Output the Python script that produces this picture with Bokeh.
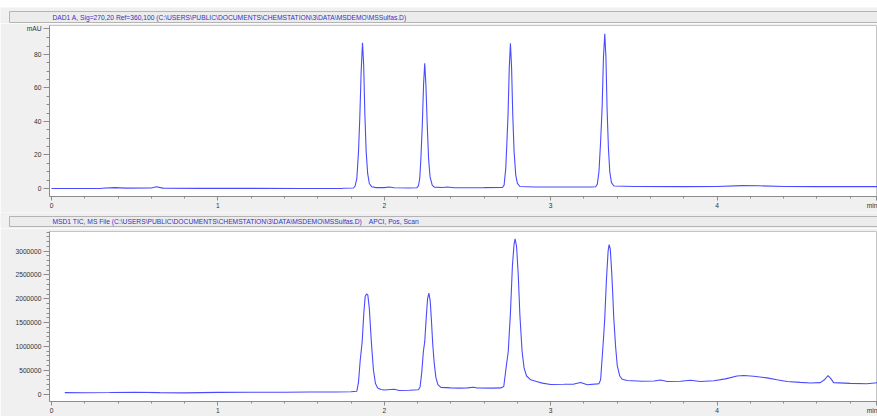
from bokeh.plotting import figure
from bokeh.layouts import column, row
from bokeh.models import FixedTicker, Range1d, Spacer
from bokeh.core.properties import value
from bokeh.embed import file_html
from bokeh.resources import INLINE

# ---------------- data ----------------
dad_title = "DAD1 A, Sig=270,20 Ref=360,100 (C:\\USERS\\PUBLIC\\DOCUMENTS\\CHEMSTATION\\3\\DATA\\MSDEMO\\MSSulfas.D)"
tic_title = "MSD1 TIC, MS File (C:\\USERS\\PUBLIC\\DOCUMENTS\\CHEMSTATION\\3\\DATA\\MSDEMO\\MSSulfas.D)\u00a0\u00a0\u00a0 APCI, Pos, Scan"

dad_time = [0.0, 0.3, 0.38, 0.45, 0.6, 0.63, 0.67, 0.9, 1.2, 1.5, 1.75,
            1.815, 1.825, 1.835, 1.845, 1.853, 1.861, 1.869, 1.876, 1.883, 1.891, 1.90, 1.91, 1.925, 1.95,
            2.0, 2.03, 2.06, 2.15,
            2.195, 2.205, 2.213, 2.22, 2.228, 2.236, 2.243, 2.25, 2.258, 2.266, 2.275, 2.288, 2.30,
            2.35, 2.38, 2.42, 2.6,
            2.71, 2.72, 2.73, 2.737, 2.744, 2.751, 2.758, 2.765, 2.772, 2.78, 2.79, 2.80, 2.815,
            2.9, 3.1, 3.25,
            3.27, 3.28, 3.29, 3.30, 3.309, 3.317, 3.325, 3.332, 3.339, 3.347, 3.355, 3.365, 3.38,
            3.5, 3.8, 4.0, 4.15, 4.25, 4.4, 4.6, 4.97]
dad_mau = [0.0, 0.1, 0.5, 0.2, 0.3, 1.0, 0.2, 0.1, 0.1, 0.0, 0.1,
           0.3, 1.5, 6, 22, 43, 70, 87, 74, 45, 22, 9, 3, 1.0, 0.5,
           0.5, 0.9, 0.4, 0.3,
           0.4, 1.5, 6, 18, 37, 62, 74.8, 62, 38, 18, 7, 2, 0.8,
           0.6, 0.9, 0.4, 0.5,
           0.6, 2, 12, 28, 45, 72, 86.7, 72, 44, 22, 8, 3, 1.2,
           0.9, 0.9, 0.9,
           1.0, 2.5, 10, 28, 48, 78, 92.3, 78, 47, 24, 10, 3.5, 1.5,
           1.2, 1.1, 1.2, 1.7, 1.6, 1.2, 1.1, 1.1]

tic_time = [0.08, 0.2, 0.35, 0.5, 0.65, 0.8, 1.0, 1.2, 1.4, 1.55, 1.7, 1.8,
            1.835, 1.845, 1.855, 1.867, 1.877, 1.885, 1.893, 1.901, 1.91, 1.923, 1.935, 1.947, 1.96, 1.98,
            2.0, 2.06, 2.09, 2.15,
            2.205, 2.215, 2.225, 2.235, 2.243, 2.252, 2.26, 2.268, 2.276, 2.284, 2.291, 2.30, 2.31, 2.322, 2.34,
            2.37, 2.40, 2.45, 2.50, 2.534, 2.56, 2.65, 2.70,
            2.718, 2.73, 2.745, 2.758, 2.77, 2.78, 2.786, 2.795, 2.805, 2.815, 2.828, 2.84, 2.855,
            2.88, 2.92, 2.95, 3.0, 3.08, 3.14, 3.18, 3.22, 3.28,
            3.29, 3.30, 3.31, 3.318, 3.325, 3.335, 3.345, 3.351, 3.358, 3.366, 3.373, 3.379, 3.39, 3.40, 3.415, 3.43, 3.46,
            3.55, 3.62, 3.66, 3.70, 3.78, 3.84, 3.90, 3.98, 4.05, 4.12, 4.16, 4.22, 4.30, 4.36, 4.42,
            4.50, 4.56, 4.62, 4.645, 4.667, 4.685, 4.70, 4.80, 4.90, 4.97]
tic_counts = [30000, 28000, 32000, 40000, 30000, 25000, 35000, 40000, 38000, 45000, 45000, 50000,
              60000, 250000, 700000, 1100000, 1700000, 2050000, 2100000, 2080000, 1800000, 1050000, 500000, 220000, 130000, 95000,
              85000, 100000, 75000, 80000,
              90000, 150000, 450000, 900000, 1100000, 1600000, 2000000, 2120000, 1950000, 1500000, 1050000, 650000, 350000, 200000, 140000,
              135000, 130000, 125000, 130000, 145000, 128000, 125000, 130000,
              160000, 500000, 900000, 1700000, 2700000, 3150000, 3260000, 3100000, 2500000, 1650000, 900000, 550000, 380000,
              300000, 260000, 230000, 200000, 205000, 210000, 245000, 195000, 215000,
              220000, 300000, 800000, 1200000, 1600000, 2400000, 3000000, 3137000, 3050000, 2600000, 2100000, 1600000, 1000000, 600000, 380000, 310000, 285000,
              270000, 275000, 295000, 265000, 270000, 290000, 265000, 280000, 320000, 380000, 390000, 375000, 340000, 300000, 265000,
              245000, 232000, 240000, 300000, 390000, 320000, 240000, 224000, 218000, 240000]

x_ticks = [0, 1, 2, 3, 4]
x_tick_labels = ["0", "1", "2", "3", "4"]
x_unit_pos = 4.96
x_unit = "min"
x_minor = [0.2, 0.4, 0.6, 0.8, 1.2, 1.4, 1.6, 1.8, 2.2, 2.4, 2.6, 2.8,
           3.2, 3.4, 3.6, 3.8, 4.2, 4.4, 4.6, 4.8]

dad_yticks = [0, 20, 40, 60, 80]
dad_ylabels = ["0", "20", "40", "60", "80"]
dad_unit_pos = 95.5
dad_unit = "mAU"
dad_yminor = [5, 10, 15, 25, 30, 35, 45, 50, 55, 65, 70, 75, 85, 90]

tic_yticks = [0, 500000, 1000000, 1500000, 2000000, 2500000, 3000000]
tic_ylabels = ["0", "500000", "1000000", "1500000", "2000000", "2500000", "3000000"]
tic_yminor = [100000, 200000, 300000, 400000, 600000, 700000, 800000, 900000,
              1100000, 1200000, 1300000, 1400000, 1600000, 1700000, 1800000, 1900000,
              2100000, 2200000, 2300000, 2400000, 2600000, 2700000, 2800000, 2900000,
              3100000, 3200000, 3300000, 3400000]

# ---------------- style ----------------
W = 877
PANEL = "#f0f0f0"
BAR = "#ececec"
BAR_LINE = "#b4b4b4"
TITLE_COLOR = "#3232c8"
LINE_COLOR = "#4a4aff"
AXIS_COLOR = "#8c8c8c"
LABEL_COLOR = "#303030"
FONT = "Liberation Sans"
FS = "6.7px"
LEFT = 49
X0 = -0.012
X1 = X0 + (W - LEFT) / 166.4


def title_bar(text, bar_bottom, bar_top, text_y):
    tb = figure(width=W, height=16, x_range=Range1d(0, W), y_range=Range1d(0, 16),
                output_backend="svg", toolbar_location=None,
                x_axis_location=None, y_axis_location=None,
                min_border_left=0, min_border_right=0, min_border_top=0, min_border_bottom=0)
    tb.grid.visible = False
    tb.outline_line_color = None
    tb.background_fill_color = PANEL
    tb.border_fill_color = PANEL
    tb.quad(left=[9], right=[W + 5], bottom=[bar_bottom], top=[bar_top],
            fill_color=BAR, line_color=BAR_LINE)
    tb.text(x=[52], y=[text_y], text=[text], text_font=value(FONT), text_font_size=FS,
            text_color=TITLE_COLOR, text_baseline="middle", text_align="left")
    return row(tb)


def style_axes(p):
    for ax in (p.xaxis[0], p.yaxis[0]):
        ax.axis_line_color = AXIS_COLOR
        ax.major_tick_line_color = AXIS_COLOR
        ax.minor_tick_line_color = AXIS_COLOR
        ax.major_tick_in = 0
        ax.minor_tick_in = 0
        ax.minor_tick_out = 3
        ax.major_label_text_font = FONT
        ax.major_label_text_font_size = FS
        ax.major_label_text_color = LABEL_COLOR
        ax.major_label_standoff = 2
    p.yaxis[0].major_tick_out = 6
    p.xaxis[0].major_tick_out = 4
    p.xaxis[0].minor_tick_out = 2
    p.xaxis[0].major_label_standoff = 1
    p.xaxis[0].ticker = FixedTicker(ticks=x_ticks + [x_unit_pos], minor_ticks=x_minor)
    ov = {t: l for t, l in zip(x_ticks, x_tick_labels)}
    ov[x_unit_pos] = x_unit
    p.xaxis[0].major_label_overrides = ov


def chart(height, top, bottom, y0, y1):
    p = figure(width=W, height=height, x_range=Range1d(X0, X1), y_range=Range1d(y0, y1),
               output_backend="svg", toolbar_location=None,
               min_border_left=LEFT, min_border_right=0,
               min_border_top=top, min_border_bottom=bottom)
    p.grid.visible = False
    p.background_fill_color = "white"
    p.border_fill_color = PANEL
    p.outline_line_color = "#c4c4c4"
    style_axes(p)
    return p


# ---- top panel (DAD) ----
top_space = Spacer(width=W, height=7)
tb1 = title_bar(dad_title, 1, 12, 6.5)

p1 = chart(189, 2, 16, -4.78, 97.3)
p1.line(dad_time, dad_mau, line_color=LINE_COLOR, line_width=1.1)
p1.yaxis[0].ticker = FixedTicker(ticks=dad_yticks + [dad_unit_pos], minor_ticks=dad_yminor)
ov1 = {t: l for t, l in zip(dad_yticks, dad_ylabels)}
ov1[dad_unit_pos] = dad_unit
p1.yaxis[0].major_label_overrides = ov1

# ---- bottom panel (TIC) ----
tb2 = title_bar(tic_title, 2, 12, 7)

p2 = chart(188, 3, 13, -155600, 3413000)
p2.line(tic_time, tic_counts, line_color=LINE_COLOR, line_width=1.1)
p2.yaxis[0].ticker = FixedTicker(ticks=tic_yticks, minor_ticks=tic_yminor)
p2.yaxis[0].major_label_overrides = {t: l for t, l in zip(tic_yticks, tic_ylabels)}

layout = column(top_space, tb1, p1, tb2, p2, spacing=0)

open("out.html", "w").write(file_html(layout, INLINE))
